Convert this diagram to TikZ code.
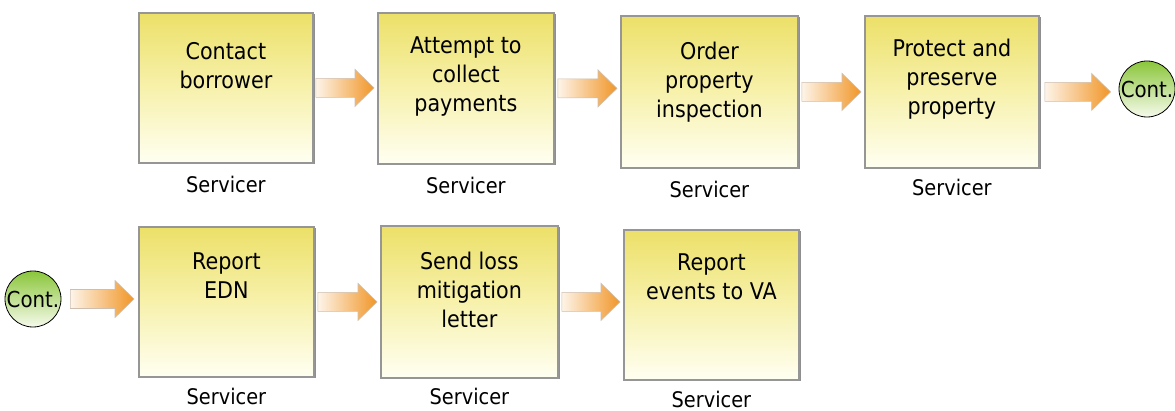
\documentclass[tikz,border=0pt]{standalone}
\usepackage{fontspec}
\setmainfont{DejaVu Sans Condensed}
\usetikzlibrary{calc,shadows}
\definecolor{boxtop}{RGB}{236,224,104}
\definecolor{boxmid}{RGB}{247,241,172}
\definecolor{boxbot}{RGB}{255,255,242}
\definecolor{boxborder}{RGB}{150,150,150}
\definecolor{arrowL}{RGB}{253,244,232}
\definecolor{arrowR}{RGB}{241,150,40}
\definecolor{arrowB}{RGB}{205,190,175}
\definecolor{conttop}{RGB}{138,198,58}
\definecolor{contbot}{RGB}{246,250,236}
\tikzset{
  procbox/.style={rectangle, draw=boxborder, line width=1.8pt,
    top color=boxtop, bottom color=boxbot, middle color=boxmid,
    inner sep=0pt, anchor=north west,
    drop shadow={shadow xshift=1.6pt, shadow yshift=-1.6pt, fill=black!55, opacity=0.8}},
  boxtext/.style={font=\fontsize{23}{29}\selectfont, align=center, inner sep=0pt, anchor=north},
  roletext/.style={font=\fontsize{21.5}{25}\selectfont, inner sep=0pt},
  contcircle/.style={circle, draw=black, line width=0.8pt, top color=conttop,
    bottom color=contbot, inner sep=0pt, minimum size=56pt,
    font=\fontsize{22}{26}\selectfont},
  fatarrow/.style={left color=arrowL, right color=arrowR, draw=arrowB, line width=0.6pt}
}
\newcommand\flowarrow[4]{%
  \path[fatarrow] let \p1=(#1.east), \p2=(#2.west) in
    (\x1+#3,\y1+9.5pt) -- (\x2-#4-19pt,\y1+9.5pt) -- (\x2-#4-19pt,\y1+18.5pt)
    -- (\x2-#4,\y1) -- (\x2-#4-19pt,\y1-18.5pt) -- (\x2-#4-19pt,\y1-9.5pt)
    -- (\x1+#3,\y1-9.5pt) -- cycle;}
\begin{document}
\begin{tikzpicture}[x=1pt,y=-1pt]
\useasboundingbox (0,0) rectangle (1175,411);
% boxes
\node[procbox, minimum width=174pt, minimum height=150pt] (b1) at (138,12) {};
\node[procbox, minimum width=176pt, minimum height=151pt] (b2) at (377,12) {};
\node[procbox, minimum width=177pt, minimum height=152pt] (b3) at (620,15) {};
\node[procbox, minimum width=174pt, minimum height=152pt] (b4) at (864,15) {};
\node[procbox, minimum width=175pt, minimum height=150pt] (b5) at (138,226) {};
\node[procbox, minimum width=177pt, minimum height=152pt] (b6) at (380,225) {};
\node[procbox, minimum width=175pt, minimum height=150pt] (b7) at (623,229) {};
% box texts
\node[boxtext] (t1) at ($(b1.north)+(0,30)$) {Contact\\borrower};
\node[boxtext] (t2) at ($(b2.north)+(0,25)$) {Attempt to\\collect\\payments};
\node[boxtext] (t3) at ($(b3.north)+(0,27)$) {Order\\property\\inspection};
\node[boxtext] (t4) at ($(b4.north)+(0,24)$) {Protect and\\preserve\\property};
\node[boxtext] (t5) at ($(b5.north)+(0,27)$) {Report\\EDN};
\node[boxtext] (t6) at ($(b6.north)+(0,27)$) {Send loss\\mitigation\\letter};
\node[boxtext] (t7) at ($(b7.north)+(0,25)$) {Report\\events to VA};
% role labels
\node[roletext] (r1) at ($(b1.south)+(0,21)$) {Servicer};
\node[roletext] (r2) at ($(b2.south)+(0,21)$) {Servicer};
\node[roletext] (r3) at ($(b3.south)+(0,21)$) {Servicer};
\node[roletext] (r4) at ($(b4.south)+(0,19)$) {Servicer};
\node[roletext] (r5) at ($(b5.south)+(0,19)$) {Servicer};
\node[roletext] (r6) at ($(b6.south)+(0,18)$) {Servicer};
\node[roletext] (r7) at ($(b7.south)+(0,19)$) {Servicer};
% continuation circles
\node[contcircle] (c1) at (1147,89) {Cont.};
\node[contcircle] (c2) at (33,299) {Cont.};
% arrows
\flowarrow{b1}{b2}{2pt}{3pt}
\flowarrow{b2}{b3}{3pt}{3pt}
\flowarrow{b3}{b4}{3pt}{3pt}
\flowarrow{b4}{c1}{5pt}{8pt}
\flowarrow{c2}{b5}{9pt}{4pt}
\flowarrow{b5}{b6}{3pt}{3pt}
\flowarrow{b6}{b7}{3pt}{3pt}
\end{tikzpicture}
\end{document}
